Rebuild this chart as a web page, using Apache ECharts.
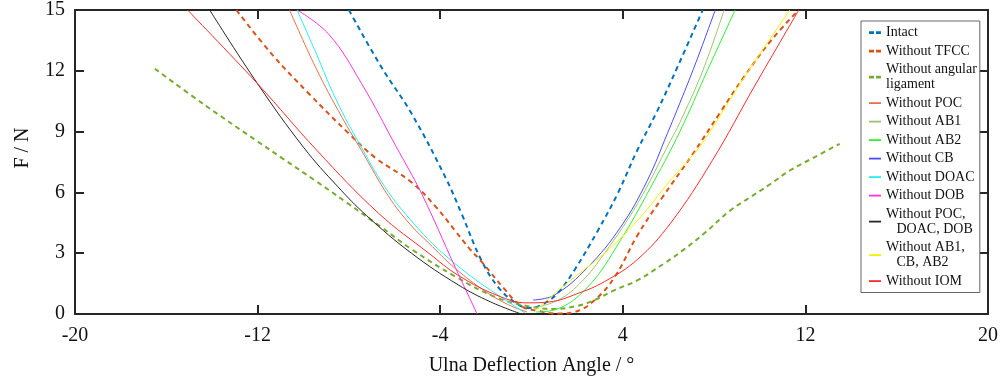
<!DOCTYPE html>
<html>
<head>
<meta charset="utf-8">
<title>Ulna Deflection</title>
<script src="https://cdn.jsdelivr.net/npm/echarts@6/dist/echarts.min.js"></script>
<style>
html,body{margin:0;padding:0;background:#fff;}
#main{width:1001px;height:383px;}
</style>
</head>
<body>
<div id="main"></div>
<script>
// 曲线数据 [角度, 力]
var intactData = [[-8.0,15],[-6.56,12.15],[-5.26,9.9],[-3.77,6.74],[-3.07,4.97],[-2.2,2.66],[-1.46,1.33],[-0.7,0.55],[-0.1,0.3],[0.6,0.55],[1.2,1.1],[1.9,2.2],[2.9,4.1],[3.8,6.0],[4.6,8.0],[5.5,10.0],[6.4,12.2],[7.5,15]];
var tfccData = [[-12.93,15],[-11.36,12.8],[-9.75,10.87],[-8.0,8.9],[-6.83,7.7],[-5.26,6.5],[-4.2,5.3],[-3.34,4.1],[-2.7,3.2],[-2.2,2.6],[-1.16,1.2],[-0.46,0.4],[0.3,0.15],[1.2,0.02],[1.9,0.1],[2.77,0.69],[3.64,1.82],[4.65,3.9],[5.7,5.7],[7.04,7.85],[8.3,10.0],[9.31,11.7],[10.5,13.5],[11.7,15]];
var angularData = [[-16.5,12.1],[-14.3,10.3],[-12.06,8.56],[-10.9,7.67],[-9.5,6.6],[-8.1,5.5],[-6.6,4.3],[-5.26,3.2],[-3.34,1.85],[-1.5,0.8],[0,0.35],[1.0,0.25],[2.0,0.4],[2.77,0.69],[3.64,1.18],[4.65,1.67],[5.82,2.5],[6.7,3.2],[7.57,3.98],[8.7,5.1],[9.58,5.76],[10.45,6.4],[11.32,7.08],[12.37,7.72],[13.5,8.4]];
var pocData = [[-10.6,15],[-9.45,12.15],[-8.3,9.7],[-7.45,8.07],[-6.26,5.8],[-5.3,4.4],[-4.5,3.5],[-3.34,2.25],[-2.0,1.1],[-1.0,0.45],[-0.2,0.1]];
var ab1Data = [[0.1,0.3],[1.2,0.7],[2.2,1.6],[3.2,3.0],[4.65,5.46],[6.09,8.56],[6.5,9.45],[7.5,12.0],[8.44,15]];
var ab2Data = [[0.2,0.1],[1.0,0.2],[2.46,1.33],[3.9,3.64],[5.39,6.6],[6.5,9.0],[7.7,12.0],[8.92,15]];
var cbData = [[0.07,0.69],[1.0,0.93],[2.46,2.3],[3.9,4.28],[5.08,6.6],[5.95,8.9],[6.39,10.1],[7.2,12.4],[8.05,15]];
var doacData = [[-10.27,15],[-9.45,12.9],[-8.57,10.6],[-7.44,8.2],[-6.26,6.0],[-4.95,4.2],[-4.08,3.2],[-2.64,1.85],[-1.16,0.7],[-0.28,0.05]];
var dobData = [[-10.27,15],[-8.88,13.8],[-7.44,11.36],[-5.95,8.3],[-4.82,5.95],[-3.34,2.3],[-2.38,0]];
var pddData = [[-14.1,15],[-12,11.36],[-9.97,8.2],[-8.5,6.3],[-7.22,4.85],[-5.26,3.0],[-3.2,1.43],[-1.8,0.6],[-0.45,0]];
var acaData = [[0.15,0.15],[0.8,0.8],[1.72,1.67],[3.2,3.0],[4.65,4.62],[6.09,6.6],[7.13,7.92],[7.57,8.56],[9.31,11.66],[11.32,15]];
var iomData = [[-15.07,15],[-12,11.36],[-9.4,8.07],[-6.7,4.97],[-4.5,3.0],[-3.2,1.9],[-1.46,0.9],[-0.2,0.55],[0.8,0.6],[2.0,1.0],[3.2,1.6],[4.65,2.7],[6.09,4.48],[7.92,7.57],[9.75,11.2],[11.71,15]];

var seriesNames = ['Intact','Without TFCC','Without angular\nligament','Without POC','Without AB1','Without AB2','Without CB','Without DOAC','Without DOB','Without POC,\n   DOAC, DOB','Without AB1,\n   CB, AB2','Without IOM'];
var seriesData = [intactData,tfccData,angularData,pocData,ab1Data,ab2Data,cbData,doacData,dobData,pddData,acaData,iomData];
var seriesColors = ['#0072BD','#D95319','#77AC30','#e8704c','#9cc46c','#2ef02e','#4b4bff','#22f0f0','#ff33e0','#262626','#f7f000','#ff2a2a'];
var seriesDashed = [true,true,true,false,false,false,false,false,false,false,false,false];

var xTicks = {min:-20,max:20,interval:8};
var yTicks = {min:0,max:15,interval:3};

var fontName = '"Liberation Serif","Times New Roman",serif';
// 图例小图标（M 点只用来撑开包围盒）
var dashIcon = 'path://M0,0M12,8M0,2.8L5,2.8L5,5.4L0,5.4ZM7,2.8L12,2.8L12,5.4L7,5.4Z';
var solidIcon = 'path://M0,0M12,8M0,3.2L12,3.2L12,5L0,5Z';

var initChart = function(){
	var chart = echarts.init(document.getElementById('main'));
	var series = [];
	var legendData = [];
	for(var i=0;i<seriesData.length;i++){
		series.push({
			name:seriesNames[i],
			type:'line',
			data:seriesData[i],
			smooth:0.4,
			showSymbol:false,
			symbol:'none',
			animation:false,
			clip:true,
			lineStyle:{
				color:seriesColors[i],
				width:seriesDashed[i]?2:1,
				type:seriesDashed[i]?[5,4]:'solid'
			},
			itemStyle:{color:seriesColors[i]}
		});
		legendData.push({
			name:seriesNames[i],
			icon:seriesDashed[i]?dashIcon:solidIcon,
			itemStyle:{color:seriesColors[i],borderWidth:0}
		});
	}
	var axisLine = {show:true,onZero:false,lineStyle:{color:'#262626',width:2}};
	var axisTick = {show:true,inside:true,length:9,lineStyle:{color:'#262626',width:2}};
	var option = {
		backgroundColor:'#fff',
		animation:false,
		grid:{left:75,right:9,top:9,bottom:69,containLabel:false},
		legend:{
			orient:'vertical',
			left:861,
			top:21,
			padding:[4,3,4,8],
			itemWidth:12,
			itemHeight:8,
			itemGap:3.5,
			backgroundColor:'#fff',
			borderColor:'#666',
			borderWidth:1,
			borderRadius:0,
			textStyle:{fontFamily:fontName,fontSize:14,lineHeight:15,color:'#111'},
			data:legendData
		},
		xAxis:[{
			type:'value',
			min:xTicks.min,max:xTicks.max,interval:xTicks.interval,
			name:'Ulna Deflection Angle / \u00b0',
			nameLocation:'middle',
			nameGap:42,
			nameTextStyle:{fontFamily:fontName,fontSize:20,color:'#111'},
			axisLine:axisLine,axisTick:axisTick,
			axisLabel:{fontFamily:fontName,fontSize:20,color:'#111',margin:12},
			splitLine:{show:false}
		},{
			type:'value',position:'top',
			min:xTicks.min,max:xTicks.max,interval:xTicks.interval,
			axisLine:axisLine,axisTick:axisTick,axisLabel:{show:false},splitLine:{show:false}
		}],
		yAxis:[{
			type:'value',
			min:yTicks.min,max:yTicks.max,interval:yTicks.interval,
			name:'F / N',
			nameLocation:'middle',
			nameGap:42,
			nameTextStyle:{fontFamily:fontName,fontSize:20,color:'#111',padding:[0,0,0,28]},
			axisLine:axisLine,axisTick:axisTick,
			axisLabel:{fontFamily:fontName,fontSize:20,color:'#111',margin:10},
			splitLine:{show:false}
		},{
			type:'value',position:'right',
			min:yTicks.min,max:yTicks.max,interval:yTicks.interval,
			axisLine:axisLine,axisTick:axisTick,axisLabel:{show:false},splitLine:{show:false}
		}],
		series:series
	};
	chart.setOption(option);
};
initChart();
</script>
</body>
</html>
